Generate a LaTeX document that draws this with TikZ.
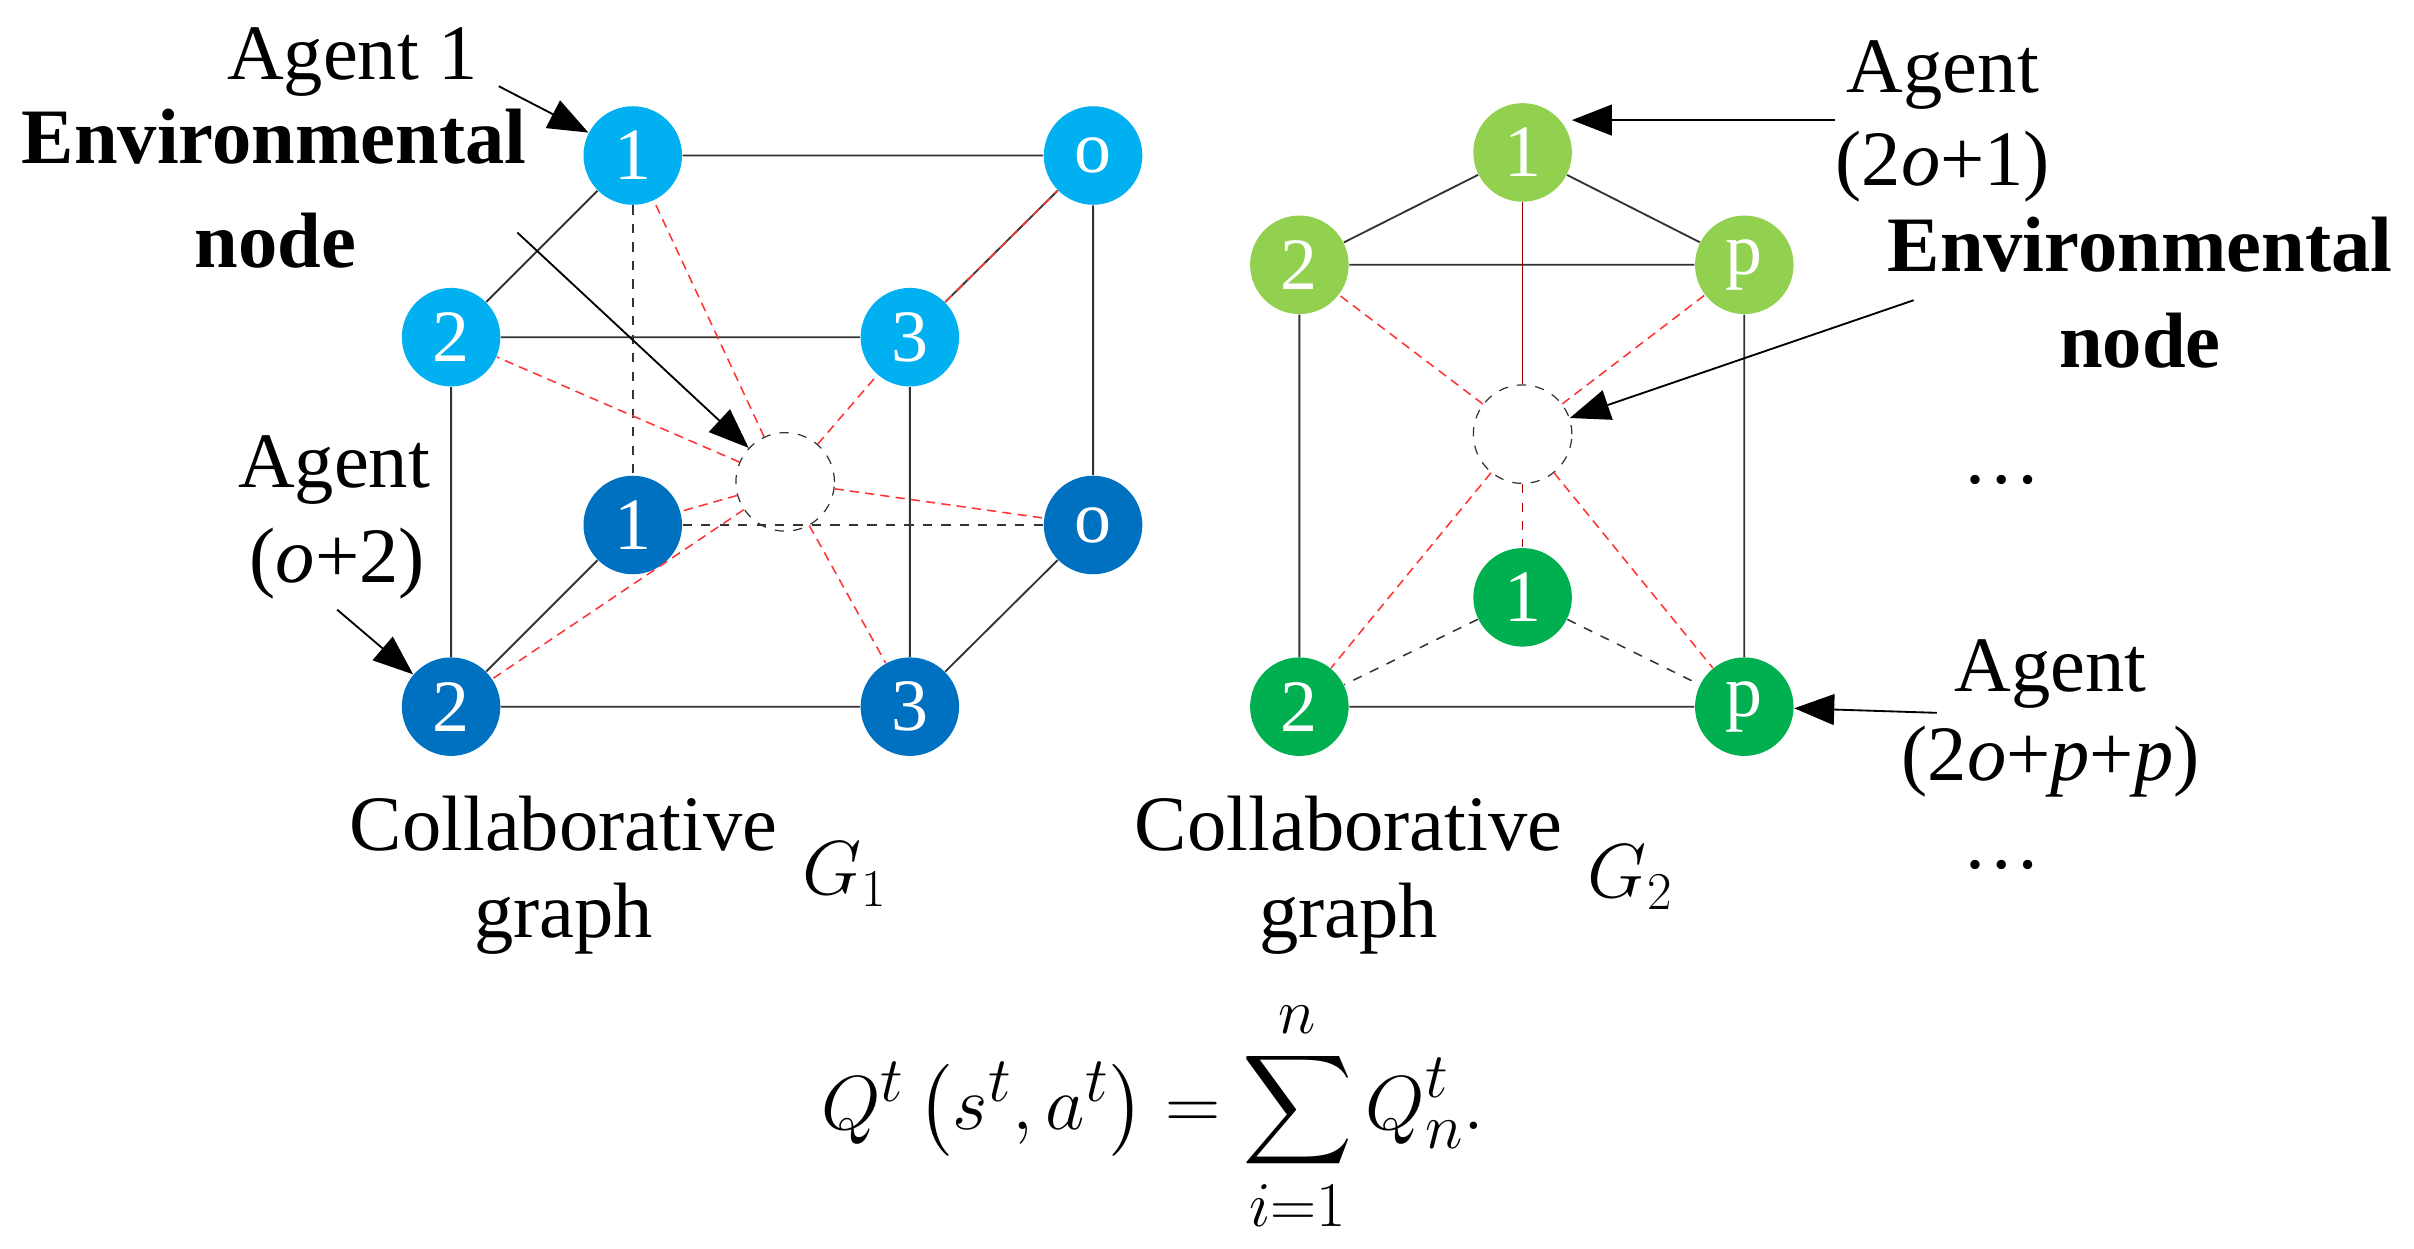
\documentclass[tikz,border=0pt]{standalone}
\usepackage{amsmath}
\usepackage{fontspec}
\setmainfont{Liberation Serif}
\usetikzlibrary{arrows.meta}
\definecolor{lb}{RGB}{0,176,240}
\definecolor{db}{RGB}{0,112,192}
\definecolor{lg}{RGB}{146,208,80}
\definecolor{dg}{RGB}{0,176,80}
\begin{document}
\begin{tikzpicture}[x=0.5pt,y=-0.5pt,
 ag/.style={circle,minimum size=32pt,inner sep=0pt,text=white,font=\fontsize{24}{24}\selectfont},
 env/.style={circle,draw=black!80,dashed,thin,minimum size=32pt,inner sep=0pt},
 ln/.style={draw=black!80,line width=0.6pt},
 dl/.style={draw=black!80,dashed,line width=0.5pt},
 rd/.style={draw=red!80,line width=0.5pt,dash pattern=on 3pt off 2pt},
 arr/.style={-{Triangle[length=13pt,width=10pt]},line width=0.6pt},
 lab/.style={font=\fontsize{25.5}{25.5}\selectfont},
 blab/.style={font=\bfseries\fontsize{25.5}{25.5}\selectfont}]
\useasboundingbox (0,0) rectangle (1568,811);
% left cube
\node[env] (e1) at (510,313) {};
\node[ag,fill=lb] (t1) at (411,101) {1};
\node[ag,fill=lb] (to) at (710,101) {o};
\node[ag,fill=lb] (t2) at (293,219) {2};
\node[ag,fill=lb] (t3) at (591,219) {3};
\node[ag,fill=db] (b1) at (411,341) {1};
\node[ag,fill=db] (bo) at (710,341) {o};
\node[ag,fill=db] (b2) at (293,459) {2};
\node[ag,fill=db] (b3) at (591,459) {3};
\draw[ln] (t1)--(to) (t1)--(t2) (to)--(t3) (to)--(bo) (t2)--(t3) (t2)--(b2) (t3)--(b3) (b2)--(b3) (b2)--(b1) (bo)--(b3);
\draw[dl] (t1)--(b1) (b1)--(bo);
\draw[rd] (e1)--(t1) (e1)--(t2) (e1)--(t3) (t3)--(to) (e1)--(b1) (e1)--(bo) (e1)--(b2) (e1)--(b3);
% right prism
\node[env] (e2) at (989,282) {};
\node[ag,fill=lg] (g1) at (989,99) {1};
\node[ag,fill=lg] (g2) at (844,172) {2};
\node[ag,fill=lg] (gp) at (1133,172) {p};
\node[ag,fill=dg] (h1) at (989,388) {1};
\node[ag,fill=dg] (h2) at (844,459) {2};
\node[ag,fill=dg] (hp) at (1133,459) {p};
\draw[ln] (g1)--(g2) (g1)--(gp) (g2)--(gp) (g2)--(h2) (gp)--(hp) (h2)--(hp);
\draw[dl] (h1)--(h2) (h1)--(hp);
\draw[draw=red!70!black,dashed,line width=0.5pt] (e2)--(h1);
\draw[draw=red!60!black,line width=0.4pt] (e2)--(g1);
\draw[rd] (e2)--(g2) (e2)--(gp) (e2)--(h2) (e2)--(hp);
% labels left
\node[lab] (a1) at (229,40) {Agent 1};
\coordinate (a1s) at (324,56);
\draw[arr] (a1s)--(t1);
\node[blab] (en1) at (178,89) {Environmental};
\node[blab] (nd1) at (179,156) {node};
\coordinate (en1s) at (336,151);
\draw[arr] (en1s)--(e1);
\node[lab] (a2) at (217,305) {Agent};
\node[lab] (a2b) at (219,366) {(\textit{o}+2)};
\coordinate (a2s) at (219,396);
\draw[arr] (a2s)--(b2);
\node[lab] (c1) at (366,535) {Collaborative};
\node[lab] (c1b) at (366,597) {graph};
\node[lab] (G1) at (549,568) {$G_1$};
\node[lab] (c2) at (876,535) {Collaborative};
\node[lab] (c2b) at (876,597) {graph};
\node[lab] (G2) at (1059,570) {$G_2$};
% labels right
\node[lab] (a3) at (1262,49) {Agent};
\node[lab] (a3b) at (1262,108) {(2\textit{o}+1)};
\coordinate (a3s) at (1192,78);
\draw[arr] (a3s)--(1021,78);
\node[blab] (en2) at (1390,159) {Environmental};
\node[blab] (nd2) at (1390,221) {node};
\coordinate (en2s) at (1243,195);
\draw[arr] (en2s)--(e2);
\node[lab] (d1) at (1300,312) {\dots};
\node[lab] (a4) at (1332,438) {Agent};
\node[lab] (a4b) at (1332,495) {(2\textit{o}+\textit{p}+\textit{p})};
\coordinate (a4s) at (1258,463);
\draw[arr] (a4s)--(hp);
\node[lab] (d2) at (1300,562) {\dots};
% formula
\node[font=\fontsize{30}{30}\selectfont] (f) at (749,725) {$Q^t\left(s^t,a^t\right)=\displaystyle\sum_{i=1}^{n} Q_n^t.$};
\end{tikzpicture}
\end{document}
